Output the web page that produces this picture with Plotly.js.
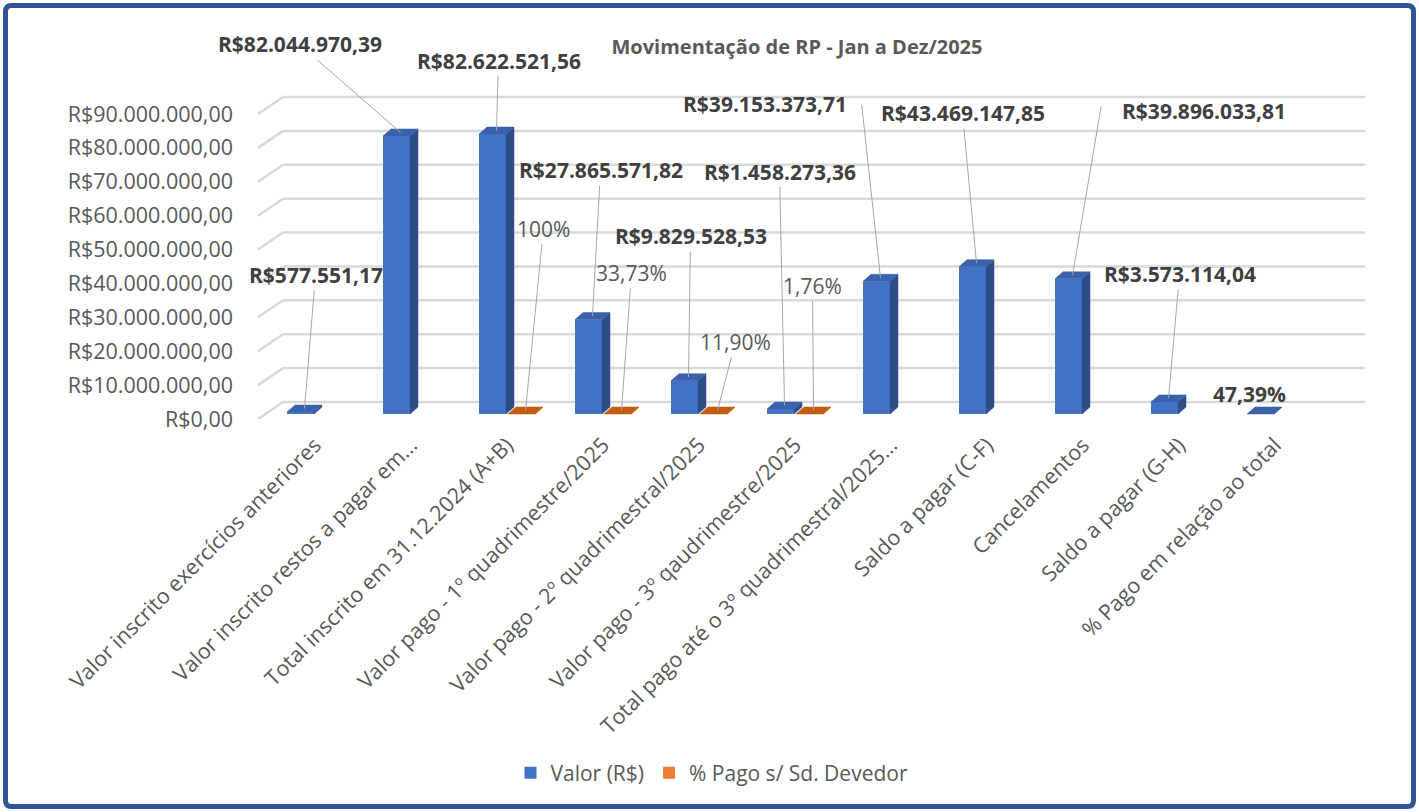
<!DOCTYPE html>
<html><head><meta charset="utf-8">
<script src="https://cdn.plot.ly/plotly-3.0.1.min.js"></script>
<style>html,body{margin:0;padding:0;background:#fff;overflow:hidden}#chart{width:1419px;height:812px}</style>
</head><body><div id="chart"></div>
<script>
// ---------- DATA ----------
const categories = [
  "Valor inscrito exercícios anteriores",
  "Valor inscrito restos a pagar em...",
  "Total inscrito em 31.12.2024 (A+B)",
  "Valor pago - 1º quadrimestre/2025",
  "Valor pago - 2º quadrimestral/2025",
  "Valor pago - 3º qaudrimestre/2025",
  "Total pago até o 3º quadrimestral/2025...",
  "Saldo a pagar (C-F)",
  "Cancelamentos",
  "Saldo a pagar (G-H)",
  "% Pago em relação ao total"
];
const valorSeries = [577551.17, 82044970.39, 82622521.56, 27865571.82, 9829528.53, 1458273.36, 39153373.71, 43469147.85, 39896033.81, 3573114.04, 0.4739];
const valorIsPercent = [false, false, false, false, false, false, false, false, false, false, true];
const pagoSeries = [null, null, 1, 0.3373, 0.119, 0.0176, null, null, null, null, null];
const yTicks = [0, 10000000, 20000000, 30000000, 40000000, 50000000, 60000000, 70000000, 80000000, 90000000];
const seriesNames = ["Valor (R$)", "% Pago s/ Sd. Devedor"];
const chartTitle = "Movimentação de RP - Jan a Dez/2025";

// ---------- LABEL PLACEMENT (pixel offsets from bar top) ----------
const valorLabelOffsets = [[11,-134],[-101,-88],[2,-70],[8,-146],[2,-141],[-5,-234],[-116,-174],[-14,-150],[131,-164],[11,-124],[-15,-17]];
const valorLineTails = ['label','label','label','label','label','label',[-19,-175],'label',[29,-171],'label',null];
const pagoLabelOffsets = [null,null,[18,-182],[10,-138],[18,-69],[-1,-125],null,null,null,null,null];

// ---------- GEOMETRY / STYLE ----------
const W = 1419, H = 812;
const FONT = "'Open Sans', 'Noto Sans', sans-serif";
const cat0Px = 315, catStep = 96;
const plotLeftPx = 258, plotRightPx = 1365, wallLeftPx = 283;
const domTopPx = 90, domBotPx = 419;
const s = 305 / 90000000; // px per unit
const barBaseLift = 5;  // bars' base above label zero
const wallLift = 17;    // back wall gridlines above label rows
const depthX = 8, depthY = 7;
const bw = 27 / catStep;
const blueOff = -28 / catStep, orangeOff = 1 / catStep;
const dxU = depthX / catStep, dyU = depthY / s;

const C = {
  blue: '#4472C4', blueSide: '#2C4D86', blueTop: '#3A62AB',
  orange: '#ED7D31', orangeTop: '#C55A11',
  grid: '#D9D9D9', text: '#595959', label: '#404040', leader: '#A6A6A6', frame: '#2F5597'
};

function brl(v) {
  const p = Math.abs(v).toFixed(2).split('.');
  return 'R$' + p[0].replace(/\B(?=(\d{3})+(?!\d))/g, '.') + ',' + p[1];
}
function pct(v) {
  const p = v * 100;
  if (Math.abs(p - Math.round(p)) < 1e-9) return Math.round(p) + '%';
  return p.toFixed(2).replace('.', ',') + '%';
}
const px = x => x / W, py = y => 1 - y / H;

const idx = categories.map((_, i) => i);

// ---------- 3D faces as polygons computed from data ----------
function faces(values, off) {
  const side = {x: [], y: []}, top = {x: [], y: []};
  values.forEach((v, i) => {
    if (v === null) return;
    const x0 = i + off, x1 = x0 + bw;
    side.x.push(x1, x1 + dxU, x1 + dxU, x1, x1, null);
    side.y.push(0, dyU, v + dyU, v, 0, null);
    top.x.push(x0, x0 + dxU, x1 + dxU, x1, x0, null);
    top.y.push(v, v + dyU, v + dyU, v, v, null);
  });
  return {side, top};
}
const bf = faces(valorSeries, blueOff);
const of = faces(pagoSeries, orangeOff);
function poly(d, color) {
  return {type: 'scatter', mode: 'lines', x: d.x, y: d.y, xaxis: 'x', yaxis: 'y2', fill: 'toself',
    fillcolor: color, line: {width: 0.5, color: color}, hoverinfo: 'skip', showlegend: false, connectgaps: false};
}

const traces = [
  {type: 'bar', name: seriesNames[0], x: idx, y: valorSeries, xaxis: 'x', yaxis: 'y2',
   width: bw, offset: blueOff, marker: {color: C.blue, line: {width: 0}}, hoverinfo: 'skip'},
  {type: 'bar', name: seriesNames[1], x: idx, y: pagoSeries, xaxis: 'x', yaxis: 'y2',
   width: bw, offset: orangeOff, marker: {color: C.orange, line: {width: 0}}, hoverinfo: 'skip'},
  poly(bf.side, C.blueSide),
  poly(bf.top, C.blueTop),
  poly(of.side, C.orangeTop),
  poly(of.top, C.orangeTop)
];

// ---------- annotations (data labels with leader lines) ----------
const annotations = [];
const tipDx = 17.5 / catStep, tipDy = (depthY / 2) / s;
valorSeries.forEach((v, i) => {
  if (v === null) return;
  const text = '<b>' + (valorIsPercent[i] ? pct(v) : brl(v)) + '</b>';
  const tx = i + blueOff + tipDx, ty = v + tipDy;
  const [ox, oy] = valorLabelOffsets[i];
  const mode = valorLineTails[i];
  const font = {family: FONT, size: 21, color: C.label};
  if (mode === 'label') {
    annotations.push({x: tx, y: ty, xref: 'x', yref: 'y2', text, font, showarrow: true,
      ax: ox, ay: oy, arrowhead: 0, arrowwidth: 1, arrowcolor: C.leader, standoff: 0});
  } else {
    if (Array.isArray(mode)) {
      annotations.push({x: tx, y: ty, xref: 'x', yref: 'y2', text: ' ', font: {size: 1}, showarrow: true,
        ax: mode[0], ay: mode[1], arrowhead: 0, arrowwidth: 1, arrowcolor: C.leader, standoff: 0});
    }
    annotations.push({x: tx, y: ty, xref: 'x', yref: 'y2', text, font, showarrow: false,
      xshift: ox, yshift: -oy});
  }
});
pagoSeries.forEach((v, i) => {
  if (v === null) return;
  const [ox, oy] = pagoLabelOffsets[i];
  annotations.push({x: i + orangeOff + tipDx, y: v + tipDy, xref: 'x', yref: 'y2', text: pct(v),
    font: {family: FONT, size: 21, color: C.text}, showarrow: true,
    ax: ox, ay: oy, arrowhead: 0, arrowwidth: 1, arrowcolor: C.leader, standoff: 0});
});

// ---------- gridlines (back wall + side wall) ----------
const shapes = [];
const wallU = wallLift / s;
yTicks.forEach(v => {
  shapes.push({type: 'line', xref: 'paper', yref: 'y', x0: px(wallLeftPx), x1: px(plotRightPx),
    y0: v + wallU, y1: v + wallU, line: {color: C.grid, width: 2.5}, layer: 'below'});
  shapes.push({type: 'line', xref: 'paper', yref: 'y', x0: px(plotLeftPx), x1: px(wallLeftPx),
    y0: v, y1: v + wallU, line: {color: C.grid, width: 2.5}, layer: 'below'});
});
// frame
(function () {
  const x0 = px(5.5), x1 = px(1413.5), y0 = py(5.5), y1 = py(806.5), rx = px(6), ry = 6 / H;
  shapes.push({type: 'path', xref: 'paper', yref: 'paper', line: {color: C.frame, width: 5},
    path: `M${x0 + rx},${y0} L${x1 - rx},${y0} Q${x1},${y0} ${x1},${y0 - ry} L${x1},${y1 + ry} Q${x1},${y1} ${x1 - rx},${y1} L${x0 + rx},${y1} Q${x0},${y1} ${x0},${y1 + ry} L${x0},${y0 - ry} Q${x0},${y0} ${x0 + rx},${y0} Z`});
})();

const domY = [py(domBotPx), py(domTopPx)];
const spanPx = domBotPx - domTopPx;

const layout = {
  width: W, height: H,
  margin: {l: 0, r: 0, t: 0, b: 0, pad: 0},
  paper_bgcolor: '#ffffff', plot_bgcolor: 'rgba(0,0,0,0)',
  font: {family: FONT, color: C.text},
  title: {text: '<b>' + chartTitle + '</b>', font: {family: FONT, size: 20, color: C.text},
    x: px(797), xanchor: 'center', xref: 'paper', y: py(47), yanchor: 'middle'},
  barmode: 'overlay',
  xaxis: {domain: [px(plotLeftPx), px(plotRightPx)], anchor: 'y',
    range: [(plotLeftPx - cat0Px) / catStep, (plotRightPx - cat0Px) / catStep],
    tickvals: idx, ticktext: categories, tickangle: -45,
    tickfont: {family: FONT, size: 21.5, color: C.text},
    showgrid: false, zeroline: false, showline: false, ticks: 'outside', ticklen: 4, tickcolor: 'rgba(0,0,0,0)'},
  yaxis: {domain: domY, anchor: 'free', position: px(233), side: 'left',
    range: [0, spanPx / s], tickvals: yTicks, ticktext: yTicks.map(brl),
    tickfont: {family: FONT, size: 21.5, color: C.text},
    showgrid: false, zeroline: false, showline: false, ticks: ''},
  yaxis2: {domain: domY, overlaying: 'y', anchor: 'x', visible: false,
    range: [-barBaseLift / s, (spanPx - barBaseLift) / s], showgrid: false, zeroline: false},
  showlegend: true,
  legend: {orientation: 'h', x: px(712), xanchor: 'center', y: py(773), yanchor: 'middle',
    font: {family: FONT, size: 21, color: C.text}, traceorder: 'normal', itemclick: false},
  annotations, shapes
};

Plotly.newPlot('chart', traces, layout, {staticPlot: true, displayModeBar: false});
</script></body></html>
